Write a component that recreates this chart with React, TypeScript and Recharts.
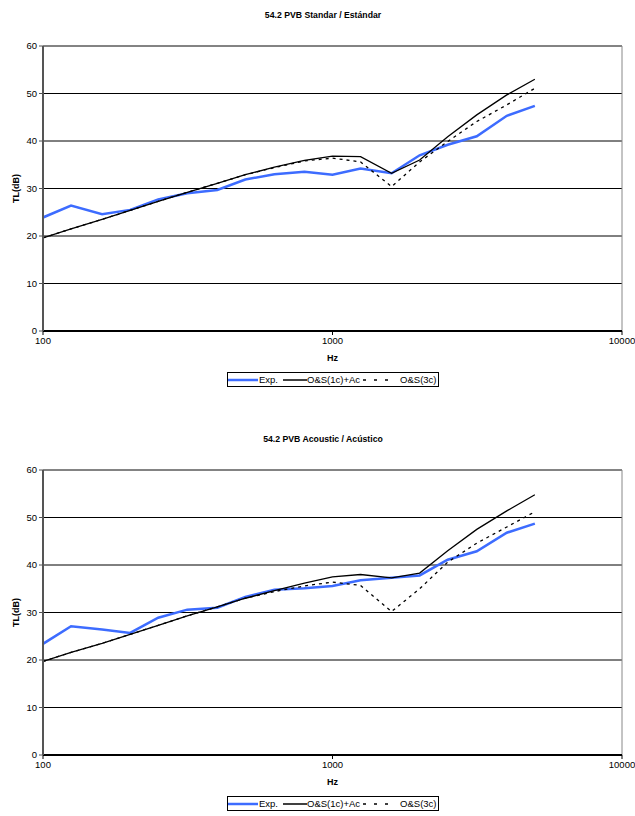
import React from "react";
import {
  LineChart, Line, XAxis, YAxis, CartesianGrid, ReferenceLine, Label
} from "recharts";

// third-octave band centres (Hz)
const FREQ = [100, 125, 160, 200, 250, 315, 400, 500, 630, 800, 1000, 1250, 1600, 2000, 2500, 3150, 4000, 5000];

// 54.2 PVB Standar
const STD_EXP = [23.9, 26.4, 24.6, 25.5, 27.7, 29.0, 29.7, 31.9, 33.0, 33.5, 32.9, 34.2, 33.2, 37.0, 39.2, 41.0, 45.3, 47.4];
const STD_OS1 = [19.6, 21.5, 23.5, 25.4, 27.3, 29.2, 31.1, 32.9, 34.5, 35.9, 36.8, 36.7, 33.2, 36.0, 40.9, 45.5, 49.7, 53.0];
const STD_OS3 = [19.6, 21.5, 23.5, 25.4, 27.3, 29.2, 31.1, 32.9, 34.4, 35.8, 36.4, 35.6, 30.4, 35.6, 39.9, 44.1, 47.6, 51.1];

// 54.2 PVB Acoustic
const ACU_EXP = [23.4, 27.1, 26.4, 25.7, 28.9, 30.6, 31.0, 33.3, 34.8, 35.1, 35.6, 36.8, 37.3, 37.8, 41.1, 42.9, 46.8, 48.7];
const ACU_OS1 = [19.7, 21.6, 23.5, 25.4, 27.3, 29.3, 31.2, 33.0, 34.6, 36.2, 37.5, 38.0, 37.3, 38.3, 43.0, 47.5, 51.4, 54.8];
const ACU_OS3 = [19.7, 21.6, 23.5, 25.4, 27.3, 29.3, 31.2, 33.0, 34.4, 35.6, 36.4, 35.7, 30.2, 35.0, 40.6, 44.6, 48.0, 51.2];

const X_TICKS = [100, 1000, 10000];
const Y_TICKS = [0, 10, 20, 30, 40, 50, 60];

const FONT = "'Liberation Sans', Arial, sans-serif";
const BLUE = "#3d6cff";

const build = (exp: number[], os1: number[], os3: number[]) =>
  FREQ.map((f, i) => ({ f, exp: exp[i], os1: os1[i], os3: os3[i] }));

const LegendBox = () => (
  <div style={{
    position: "absolute", top: 372, left: 227, width: 212, height: 15,
    border: "1px solid #000", boxSizing: "border-box", display: "flex",
    alignItems: "center", fontFamily: FONT, fontSize: 9.5, color: "#000",
    background: "#fff", paddingLeft: 0, whiteSpace: "nowrap"
  }}>
    <svg width={30} height={6}><line x1={0} y1={3} x2={30} y2={3} stroke={BLUE} strokeWidth={2.5} /></svg>
    <span style={{ marginLeft: 1, marginRight: 5 }}>Exp.</span>
    <svg width={24} height={6}><line x1={0} y1={3} x2={24} y2={3} stroke="#000" strokeWidth={1.5} /></svg>
    <span style={{ marginRight: 3 }}>O&amp;S(1c)+Ac</span>
    <svg width={32} height={6}><line x1={0} y1={3} x2={32} y2={3} stroke="#000" strokeWidth={1.5} strokeDasharray="3 8" /></svg>
    <span style={{ marginLeft: 5 }}>O&amp;S(3c)</span>
  </div>
);

const Panel = ({ title, data }: { title: string; data: any[] }) => (
  <div style={{ position: "relative", width: 635, height: 424 }}>
    <div style={{
      position: "absolute", top: 10, left: 0, width: 646, textAlign: "center",
      fontFamily: FONT, fontSize: 8.7, fontWeight: "bold", color: "#000"
    }}>{title}</div>
    <LineChart width={635} height={424} data={data}
      margin={{ top: 46, right: 13, left: 10, bottom: 61 }}>
      <CartesianGrid vertical={false} stroke="#000" strokeWidth={1} />
      <ReferenceLine y={60} stroke="#888" strokeWidth={1} />
      <ReferenceLine x={10000} stroke="#888" strokeWidth={1} />
      <XAxis dataKey="f" type="number" scale="log" domain={[100, 10000]} ticks={X_TICKS}
        allowDataOverflow height={32} tickSize={4} axisLine={{ stroke: "#000", strokeWidth: 2 }}
        tickLine={{ stroke: "#000" }} tick={{ fontSize: 9.5, fill: "#000", fontFamily: FONT }}>
        <Label value="Hz" position="insideBottom" offset={2}
          style={{ fontSize: 9, fontWeight: "bold", fill: "#000", fontFamily: FONT }} />
      </XAxis>
      <YAxis type="number" domain={[0, 60]} ticks={Y_TICKS} width={33} tickSize={4}
        axisLine={{ stroke: "#555", strokeWidth: 2 }} tickLine={{ stroke: "#555" }}
        tick={{ fontSize: 9.5, fill: "#000", fontFamily: FONT }}>
        <Label value="TL(dB)" angle={-90} position="insideLeft" offset={6}
          style={{ fontSize: 9, fontWeight: "bold", fill: "#000", fontFamily: FONT, textAnchor: "middle" }} />
      </YAxis>
      <Line type="linear" dataKey="exp" stroke={BLUE} strokeWidth={2.5} dot={false} isAnimationActive={false} />
      <Line type="linear" dataKey="os1" stroke="#000" strokeWidth={1.3} dot={false} isAnimationActive={false} />
      <Line type="linear" dataKey="os3" stroke="#000" strokeWidth={1.3} strokeDasharray="3 4" dot={false} isAnimationActive={false} />
    </LineChart>
    <LegendBox />
  </div>
);

export default function App() {
  return (
    <div style={{ position: "absolute", left: 0, top: 0, width: 635, height: 816, background: "#fff" }}>
      <Panel title="54.2 PVB Standar / Estándar" data={build(STD_EXP, STD_OS1, STD_OS3)} />
      <Panel title="54.2 PVB Acoustic / Acústico" data={build(ACU_EXP, ACU_OS1, ACU_OS3)} />
    </div>
  );
}
